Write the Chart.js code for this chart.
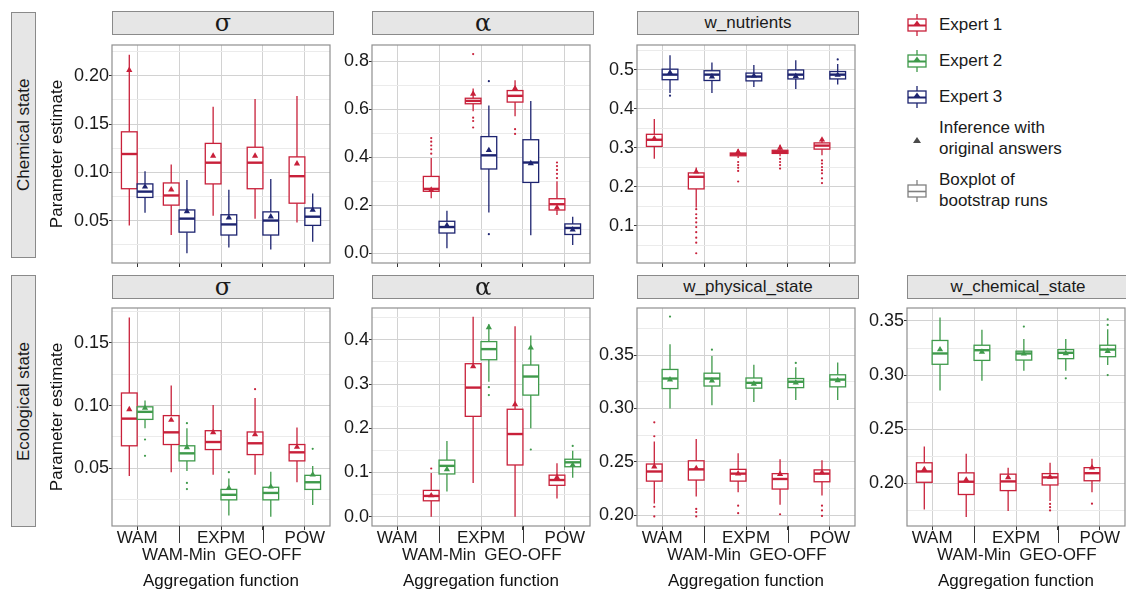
<!DOCTYPE html>
<html>
<head>
<meta charset="utf-8">
<script src="https://cdn.jsdelivr.net/npm/chart.js@4.4.1/dist/chart.umd.min.js"></script>
<style>
  body { margin: 0; background: #fff; }
  #fig { position: relative; width: 1126px; height: 594px; overflow: hidden;
         font-family: 'Liberation Sans', Arial, sans-serif; color: #1a1a1a; }
  #fig canvas { position: absolute; }
  .strip { position: absolute; box-sizing: border-box; background: #e6e6e6; border: 1px solid #8a8a8a;
           display: flex; align-items: center; justify-content: center; font-size: 17px; }
  .greek { font-family: 'DejaVu Serif', 'Liberation Serif', serif; font-size: 24px; }
  .rowstrip { position: absolute; box-sizing: border-box; background: #e6e6e6; border: 1px solid #8a8a8a;
              display: flex; align-items: center; justify-content: center; font-size: 17px;
              writing-mode: vertical-rl; transform: rotate(180deg); }
  .lkey { position: absolute; left: 906px; width: 22px; height: 24px; }
  .ltxt { position: absolute; left: 939px; font-size: 17px; line-height: 21px; white-space: nowrap; }
</style>
</head>
<body>
<div id="fig">
  <div class="rowstrip" style="left:11px;top:12px;width:25px;height:246px;">Chemical state</div>
  <div class="rowstrip" style="left:11px;top:275px;width:25px;height:252px;">Ecological state</div>

  <svg class="lkey" style="top:13px" viewBox="0 0 22 24"><g stroke="#c8203a" stroke-width="1.3" fill="#fff"><line x1="11" y1="1" x2="11" y2="6"/><line x1="11" y1="18" x2="11" y2="23"/><rect x="2" y="6" width="18" height="12"/><line x1="2" y1="12.5" x2="20" y2="12.5" stroke-width="2"/></g><polygon points="11,7.5 15,13 7,13" fill="#c8203a"/></svg>
  <div class="ltxt" style="top:14px">Expert 1</div>
  <svg class="lkey" style="top:49px" viewBox="0 0 22 24"><g stroke="#3f9a4b" stroke-width="1.3" fill="#fff"><line x1="11" y1="1" x2="11" y2="6"/><line x1="11" y1="18" x2="11" y2="23"/><rect x="2" y="6" width="18" height="12"/><line x1="2" y1="12.5" x2="20" y2="12.5" stroke-width="2"/></g><polygon points="11,7.5 15,13 7,13" fill="#3f9a4b"/></svg>
  <div class="ltxt" style="top:50px">Expert 2</div>
  <svg class="lkey" style="top:85px" viewBox="0 0 22 24"><g stroke="#1d2470" stroke-width="1.3" fill="#fff"><line x1="11" y1="1" x2="11" y2="6"/><line x1="11" y1="18" x2="11" y2="23"/><rect x="2" y="6" width="18" height="12"/><line x1="2" y1="12.5" x2="20" y2="12.5" stroke-width="2"/></g><polygon points="11,7.5 15,13 7,13" fill="#1d2470"/></svg>
  <div class="ltxt" style="top:86px">Expert 3</div>
  <svg class="lkey" style="top:129px" viewBox="0 0 22 24"><polygon points="11,8 15,14 7,14" fill="#4a4a4a"/></svg>
  <div class="ltxt" style="top:117px">Inference with<br>original answers</div>
  <svg class="lkey" style="top:179px" viewBox="0 0 22 24"><g stroke="#808080" stroke-width="1.3" fill="#fff"><line x1="11" y1="1" x2="11" y2="6"/><line x1="11" y1="18" x2="11" y2="23"/><rect x="2" y="6" width="18" height="12"/><line x1="2" y1="12.5" x2="20" y2="12.5" stroke-width="1.6"/></g></svg>
  <div class="ltxt" style="top:169px">Boxplot of<br>bootstrap runs</div>
</div>

<script>
// aggregation functions on the x axis; second-row labels are staggered
const funcs = ['WAM', 'WAM-Min', 'EXPM', 'GEO-OFF', 'POW'];
const funcRow = [0, 1, 0, 1, 0];

// boxplot stats per function: [lower whisker, q1, median, q3, upper whisker]
// "Orig" = inference with original answers (triangle), "Out" = outliers

// --- Chemical state: sigma
const chemSigmaE1 = [[0.045, 0.083, 0.119, 0.142, 0.222], [0.035, 0.066, 0.076, 0.089, 0.108], [0.055, 0.088, 0.110, 0.130, 0.168], [0.052, 0.083, 0.110, 0.126, 0.176], [0.048, 0.068, 0.096, 0.116, 0.179]];
const chemSigmaE1Orig = [0.206, 0.082, 0.117, 0.117, 0.109];
const chemSigmaE1Out = [[], [], [], [], []];
const chemSigmaE3 = [[0.058, 0.074, 0.080, 0.088, 0.101], [0.016, 0.038, 0.052, 0.061, 0.092], [0.022, 0.035, 0.046, 0.056, 0.082], [0.020, 0.035, 0.050, 0.059, 0.093], [0.028, 0.045, 0.054, 0.063, 0.078]];
const chemSigmaE3Orig = [0.085, 0.0595, 0.053, 0.054, 0.061];
const chemSigmaE3Out = [[], [], [], [], []];

// --- Chemical state: alpha
const chemAlphaE1 = [null, [0.229, 0.258, 0.268, 0.320, 0.397], [0.592, 0.623, 0.635, 0.646, 0.687], [0.571, 0.630, 0.656, 0.678, 0.721], [0.159, 0.180, 0.204, 0.227, 0.300]];
const chemAlphaE1Orig = [null, 0.264, 0.664, 0.687, 0.190];
const chemAlphaE1Out = [[], [0.415, 0.433, 0.449, 0.465, 0.480], [0.830, 0.565, 0.551, 0.524], [0.517, 0.497], [0.313, 0.331, 0.347, 0.363, 0.378]];
const chemAlphaE3 = [null, [0.020, 0.084, 0.109, 0.133, 0.177], [0.170, 0.351, 0.408, 0.486, 0.616], [0.075, 0.295, 0.378, 0.473, 0.635], [0.034, 0.078, 0.105, 0.122, 0.152]];
const chemAlphaE3Orig = [null, 0.116, 0.429, 0.374, 0.098];
const chemAlphaE3Out = [[], [], [0.717, 0.079], [], []];

// --- Chemical state: w_nutrients
const chemNutE1 = [[0.272, 0.304, 0.321, 0.335, 0.374], [0.147, 0.195, 0.226, 0.236, 0.250], [0.274, 0.280, 0.284, 0.287, 0.297], [0.279, 0.286, 0.290, 0.294, 0.308], [0.281, 0.297, 0.306, 0.313, 0.325]];
const chemNutE1Orig = [0.324, 0.239, 0.290, 0.300, 0.321];
const chemNutE1Out = [[], [0.143, 0.130, 0.120, 0.109, 0.097, 0.084, 0.070, 0.057, 0.030], [0.264, 0.256, 0.249, 0.241, 0.214], [0.272, 0.264, 0.256, 0.247], [0.268, 0.260, 0.251, 0.243, 0.235, 0.222, 0.210]];
const chemNutE3 = [[0.441, 0.475, 0.488, 0.502, 0.538], [0.441, 0.473, 0.488, 0.498, 0.519], [0.456, 0.472, 0.483, 0.492, 0.513], [0.451, 0.477, 0.488, 0.500, 0.525], [0.463, 0.477, 0.488, 0.496, 0.515]];
const chemNutE3Orig = [0.493, 0.483, 0.485, 0.484, 0.487];
const chemNutE3Out = [[0.434], [], [], [], [0.527]];

// --- Ecological state: sigma
const ecoSigmaE1 = [[0.044, 0.068, 0.0896, 0.110, 0.170], [0.047, 0.069, 0.0787, 0.092, 0.116], [0.045, 0.065, 0.071, 0.080, 0.1005], [0.045, 0.061, 0.070, 0.079, 0.106], [0.039, 0.056, 0.0628, 0.069, 0.0826]];
const ecoSigmaE1Orig = [0.097, 0.0885, 0.0786, 0.077, 0.067];
const ecoSigmaE1Out = [[], [], [], [0.113], []];
const ecoSigmaE2 = [[0.082, 0.089, 0.095, 0.099, 0.104], [0.048, 0.056, 0.062, 0.068, 0.082], [0.0125, 0.025, 0.029, 0.0333, 0.042], [0.0115, 0.025, 0.0305, 0.035, 0.0474], [0.021, 0.0333, 0.039, 0.0445, 0.052]];
const ecoSigmaE2Orig = [0.098, 0.0667, 0.0344, 0.0354, 0.045];
const ecoSigmaE2Out = [[0.073, 0.060], [0.086, 0.0385, 0.0336], [0.047], [], [0.0656]];

// --- Ecological state: alpha
const ecoAlphaE1 = [null, [0.0, 0.036, 0.047, 0.0595, 0.099], [0.076, 0.227, 0.292, 0.346, 0.452], [0.0, 0.117, 0.187, 0.243, 0.431], [0.041, 0.071, 0.083, 0.094, 0.121]];
const ecoAlphaE1Orig = [null, 0.048, 0.340, 0.254, 0.089];
const ecoAlphaE1Out = [[], [0.109], [], [], []];
const ecoAlphaE2 = [null, [0.057, 0.0967, 0.115, 0.128, 0.171], [0.305, 0.355, 0.379, 0.396, 0.435], [0.200, 0.275, 0.317, 0.343, 0.410], [0.088, 0.113, 0.123, 0.130, 0.149]];
const ecoAlphaE2Orig = [null, 0.107, 0.428, 0.382, 0.117];
const ecoAlphaE2Out = [[], [], [0.293, 0.275], [0.152], [0.160]];

// --- Ecological state: w_physical_state
const ecoPhysE1 = [[0.211, 0.232, 0.241, 0.248, 0.269], [0.2176, 0.233, 0.243, 0.251, 0.2715], [0.2216, 0.232, 0.239, 0.243, 0.258], [0.210, 0.2246, 0.234, 0.239, 0.2524], [0.2185, 0.2314, 0.239, 0.2425, 0.2515]];
const ecoPhysE1Orig = [0.2456, 0.244, 0.239, 0.2385, 0.240];
const ecoPhysE1Out = [[0.274, 0.287, 0.208, 0.199], [0.206, 0.203, 0.199], [0.209, 0.202], [0.201], [0.209, 0.2046, 0.1994]];
const ecoPhysE2 = [[0.300, 0.3186, 0.328, 0.3365, 0.360], [0.303, 0.321, 0.328, 0.333, 0.349], [0.306, 0.319, 0.324, 0.3285, 0.341], [0.308, 0.3195, 0.325, 0.328, 0.3386], [0.3078, 0.3202, 0.327, 0.3315, 0.343]];
const ecoPhysE2Orig = [0.327, 0.326, 0.323, 0.324, 0.3263];
const ecoPhysE2Out = [[0.386], [0.355], [], [0.3426], []];

// --- Ecological state: w_chemical_state
const ecoChemE1 = [[0.1758, 0.201, 0.211, 0.219, 0.234], [0.169, 0.1897, 0.2015, 0.2097, 0.2273], [0.1745, 0.1933, 0.2018, 0.2085, 0.2145], [0.1836, 0.1985, 0.2055, 0.209, 0.219], [0.1918, 0.2024, 0.2094, 0.2145, 0.2227]];
const ecoChemE1Orig = [0.213, 0.2033, 0.2055, 0.206, 0.2145];
const ecoChemE1Out = [[], [], [], [0.181, 0.178, 0.175], [0.1812]];
const ecoChemE2 = [[0.2858, 0.310, 0.320, 0.332, 0.3533], [0.2948, 0.3136, 0.323, 0.3276, 0.3418], [0.304, 0.3139, 0.320, 0.3221, 0.3333], [0.304, 0.3152, 0.3206, 0.3236, 0.3333], [0.3094, 0.317, 0.3236, 0.3276, 0.3424]];
const ecoChemE2Orig = [0.3236, 0.3215, 0.3197, 0.320, 0.3221];
const ecoChemE2Out = [[], [], [0.3448], [0.297], [0.3515, 0.3464, 0.300]];

// y-axis ticks (major labelled, minor only as grid lines)
const chemSigmaMajor = [0.05, 0.10, 0.15, 0.20], chemSigmaMinor = [0.025, 0.075, 0.125, 0.175, 0.225];
const chemAlphaMajor = [0.0, 0.2, 0.4, 0.6, 0.8], chemAlphaMinor = [0.1, 0.3, 0.5, 0.7];
const chemNutMajor = [0.1, 0.2, 0.3, 0.4, 0.5], chemNutMinor = [0.05, 0.15, 0.25, 0.35, 0.45, 0.55];
const ecoSigmaMajor = [0.05, 0.10, 0.15], ecoSigmaMinor = [0.025, 0.075, 0.125, 0.175];
const ecoAlphaMajor = [0.0, 0.1, 0.2, 0.3, 0.4], ecoAlphaMinor = [0.05, 0.15, 0.25, 0.35, 0.45];
const ecoPhysMajor = [0.20, 0.25, 0.30, 0.35], ecoPhysMinor = [0.225, 0.275, 0.325, 0.375];
const ecoChemMajor = [0.20, 0.25, 0.30, 0.35], ecoChemMinor = [0.175, 0.225, 0.275, 0.325];

const RED = '#c8203a', GREEN = '#3f9a4b', NAVY = '#1d2470';
const DODGE = 0.1875, BOX_W = 0.375;
const MAJOR_GRID = '#d2d2d2', MINOR_GRID = '#ebebeb';

const colLeft = [112, 372, 637, 907];
const rowTop = [41, 304];
const stripTop = [11, 275];
const PANEL_W = 222, PANEL_H = 222, STRIP_H = 24;

const e1 = (stats, orig, out) => ({stats, orig, out, color: RED, offset: -DODGE});
const e2 = (stats, orig, out) => ({stats, orig, out, color: GREEN, offset: DODGE});
const e3 = (stats, orig, out) => ({stats, orig, out, color: NAVY, offset: DODGE});

const panels = [
  {row: 0, col: 0, title: 'σ', greek: true, yMin: 0.006, yMax: 0.232, major: chemSigmaMajor, minor: chemSigmaMinor, dec: 2,
   groups: [e1(chemSigmaE1, chemSigmaE1Orig, chemSigmaE1Out), e3(chemSigmaE3, chemSigmaE3Orig, chemSigmaE3Out)]},
  {row: 0, col: 1, title: 'α', greek: true, yMin: -0.041, yMax: 0.868, major: chemAlphaMajor, minor: chemAlphaMinor, dec: 1,
   groups: [e1(chemAlphaE1, chemAlphaE1Orig, chemAlphaE1Out), e3(chemAlphaE3, chemAlphaE3Orig, chemAlphaE3Out)]},
  {row: 0, col: 2, title: 'w_nutrients', greek: false, yMin: 0.005, yMax: 0.564, major: chemNutMajor, minor: chemNutMinor, dec: 1,
   groups: [e1(chemNutE1, chemNutE1Orig, chemNutE1Out), e3(chemNutE3, chemNutE3Orig, chemNutE3Out)]},
  {row: 1, col: 0, title: 'σ', greek: true, yMin: 0.0042, yMax: 0.1776, major: ecoSigmaMajor, minor: ecoSigmaMinor, dec: 2,
   groups: [e1(ecoSigmaE1, ecoSigmaE1Orig, ecoSigmaE1Out), e2(ecoSigmaE2, ecoSigmaE2Orig, ecoSigmaE2Out)]},
  {row: 1, col: 1, title: 'α', greek: true, yMin: -0.021, yMax: 0.472, major: ecoAlphaMajor, minor: ecoAlphaMinor, dec: 1,
   groups: [e1(ecoAlphaE1, ecoAlphaE1Orig, ecoAlphaE1Out), e2(ecoAlphaE2, ecoAlphaE2Orig, ecoAlphaE2Out)]},
  {row: 1, col: 2, title: 'w_physical_state', greek: false, yMin: 0.190, yMax: 0.394, major: ecoPhysMajor, minor: ecoPhysMinor, dec: 2,
   groups: [e1(ecoPhysE1, ecoPhysE1Orig, ecoPhysE1Out), e2(ecoPhysE2, ecoPhysE2Orig, ecoPhysE2Out)]},
  {row: 1, col: 3, title: 'w_chemical_state', greek: false, yMin: 0.1606, yMax: 0.362, major: ecoChemMajor, minor: ecoChemMinor, dec: 2,
   groups: [e1(ecoChemE1, ecoChemE1Orig, ecoChemE1Out), e2(ecoChemE2, ecoChemE2Orig, ecoChemE2Out)]}
];

Chart.defaults.font.family = "'Liberation Sans', Arial, sans-serif";

// draws the boxes/whiskers/medians through the chart scales, plus the panel frame
function boxplotPlugin(p) {
  return {
    id: 'boxplots',
    beforeDatasetsDraw(chart) {
      const {ctx, chartArea: a, scales: {x, y}} = chart;
      ctx.save();
      ctx.beginPath();
      ctx.rect(a.left, a.top, a.width, a.height);
      ctx.clip();
      p.groups.forEach(g => g.stats.forEach((s, i) => {
        if (!s) return;
        const c = i + 1 + g.offset;
        const xl = x.getPixelForValue(c - BOX_W / 2), xr = x.getPixelForValue(c + BOX_W / 2);
        const xm = x.getPixelForValue(c);
        const [lo, q1, med, q3, hi] = s.map(v => y.getPixelForValue(v));
        ctx.strokeStyle = g.color;
        ctx.lineWidth = 1.3;
        ctx.beginPath();
        ctx.moveTo(xm, hi); ctx.lineTo(xm, q3);
        ctx.moveTo(xm, q1); ctx.lineTo(xm, lo);
        ctx.stroke();
        ctx.fillStyle = '#fff';
        ctx.fillRect(xl, q3, xr - xl, q1 - q3);
        ctx.strokeRect(xl, q3, xr - xl, q1 - q3);
        ctx.lineWidth = 2.4;
        ctx.beginPath();
        ctx.moveTo(xl, med); ctx.lineTo(xr, med);
        ctx.stroke();
      }));
      ctx.restore();
    },
    afterDraw(chart) {
      const {ctx, chartArea: a, scales: {x}} = chart;
      ctx.save();
      ctx.strokeStyle = '#8f8f8f';
      ctx.lineWidth = 1.2;
      ctx.strokeRect(a.left, a.top, a.width, a.height);
      if (p.row === 1) {
        // longer ticks separate the staggered second row of labels
        ctx.strokeStyle = '#333';
        ctx.lineWidth = 1;
        funcs.forEach((f, i) => {
          if (!funcRow[i]) return;
          const px = Math.round(x.getPixelForValue(i + 1)) + 0.5;
          ctx.beginPath();
          ctx.moveTo(px, a.bottom);
          ctx.lineTo(px, a.bottom + 17);
          ctx.stroke();
        });
      }
      ctx.restore();
    }
  };
}

const fig = document.getElementById('fig');

panels.forEach(p => {
  const left = colLeft[p.col], top = rowTop[p.row];
  const yW = p.col === 0 ? 67 : 45;
  const xH = p.row === 0 ? 5 : 68;

  const strip = document.createElement('div');
  strip.className = 'strip' + (p.greek ? ' greek' : '');
  strip.textContent = p.title;
  strip.style.left = left + 'px';
  strip.style.top = stripTop[p.row] + 'px';
  strip.style.width = PANEL_W + 'px';
  strip.style.height = STRIP_H + 'px';
  fig.appendChild(strip);

  const canvas = document.createElement('canvas');
  canvas.width = yW + PANEL_W;
  canvas.height = PANEL_H + xH;
  canvas.style.left = (left - yW) + 'px';
  canvas.style.top = top + 'px';
  fig.appendChild(canvas);

  const yTicks = [...p.major, ...p.minor].sort((a, b) => a - b);
  const isMajor = v => p.major.includes(v);

  const datasets = [];
  p.groups.forEach(g => {
    datasets.push({
      data: g.orig.map((v, i) => v == null ? null : {x: i + 1 + g.offset, y: v}).filter(d => d),
      pointStyle: 'triangle', radius: 3.6, borderWidth: 0,
      backgroundColor: g.color, borderColor: g.color
    });
    datasets.push({
      data: g.out.flatMap((arr, i) => arr.map(v => ({x: i + 1 + g.offset, y: v}))),
      pointStyle: 'circle', radius: 1.1, borderWidth: 0,
      backgroundColor: g.color, borderColor: g.color
    });
  });

  new Chart(canvas, {
    type: 'scatter',
    data: {datasets: datasets},
    plugins: [boxplotPlugin(p)],
    options: {
      responsive: false,
      animation: false,
      events: [],
      layout: {padding: 0},
      plugins: {legend: {display: false}, tooltip: {enabled: false}},
      scales: {
        x: {
          type: 'linear', min: 0.4, max: 5.6,
          afterBuildTicks: s => { s.ticks = funcs.map((f, i) => ({value: i + 1})); },
          afterFit: s => { s.height = xH; s.paddingLeft = 0; s.paddingRight = 0; },
          ticks: {
            display: p.row === 1, autoSkip: false, maxRotation: 0, minRotation: 0, padding: 0,
            color: '#1a1a1a', font: {size: 17, lineHeight: 1},
            callback: v => funcRow[v - 1] ? ['', funcs[v - 1]] : funcs[v - 1]
          },
          grid: {color: MAJOR_GRID, lineWidth: 1, tickLength: 4, tickColor: '#333'},
          border: {display: false},
          title: {display: p.row === 1, text: 'Aggregation function', color: '#111',
                  font: {size: 17}, padding: {top: 0, bottom: 2}}
        },
        y: {
          type: 'linear', min: p.yMin, max: p.yMax,
          afterBuildTicks: s => { s.ticks = yTicks.map(v => ({value: v})); },
          afterFit: s => { s.width = yW; s.paddingTop = 0; s.paddingBottom = 0; },
          ticks: {
            autoSkip: false, padding: 0, color: '#1a1a1a', font: {size: 18},
            callback: v => isMajor(v) ? v.toFixed(p.dec) : ''
          },
          grid: {
            color: c => (c.tick && isMajor(c.tick.value)) ? MAJOR_GRID : MINOR_GRID,
            lineWidth: 1, tickLength: 3,
            tickColor: c => (c.tick && isMajor(c.tick.value)) ? '#333' : 'rgba(0,0,0,0)'
          },
          border: {display: false},
          title: {display: p.col === 0, text: 'Parameter estimate', color: '#111',
                  font: {size: 17}, padding: {top: 2, bottom: 0}}
        }
      }
    }
  });
});
</script>
</body>
</html>
